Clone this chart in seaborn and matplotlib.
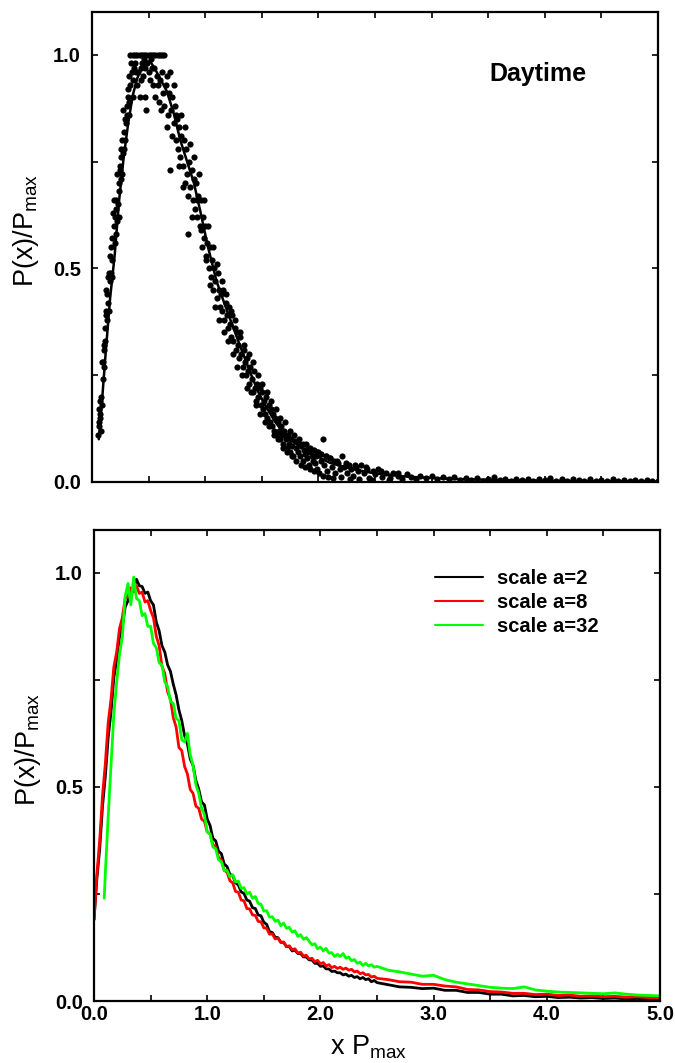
import numpy as np
import pandas as pd
import matplotlib
matplotlib.use("Agg")
import matplotlib.pyplot as plt
from matplotlib.ticker import MultipleLocator, FormatStrFormatter
import seaborn as sns

# ---------------- data: top panel (Daytime) ----------------
fit_x = [0.06, 0.08, 0.10, 0.12, 0.16, 0.20, 0.24, 0.28, 0.32, 0.36, 0.40, 0.44, 0.48,
         0.52, 0.56, 0.60, 0.66, 0.72, 0.78, 0.84, 0.90, 0.96, 1.02, 1.10, 1.18, 1.25,
         1.32, 1.40, 1.47, 1.54, 1.62, 1.70, 1.80, 1.93, 2.10, 2.30, 2.50, 2.80, 3.20,
         3.70, 4.30, 5.00]
fit_y = [0.10, 0.16, 0.23, 0.30, 0.43, 0.53, 0.66, 0.76, 0.84, 0.905, 0.945, 0.97, 0.985,
         0.982, 0.965, 0.945, 0.915, 0.865, 0.80, 0.75, 0.70, 0.63, 0.555, 0.47, 0.41, 0.36,
         0.31, 0.255, 0.21, 0.175, 0.14, 0.112, 0.09, 0.068, 0.045, 0.03, 0.02, 0.012, 0.007,
         0.004, 0.002, 0.001]

dot_x = [0.055, 0.06, 0.065, 0.07, 0.075, 0.08, 0.085, 0.09, 0.10, 0.105, 0.11, 0.115, 0.12,
         0.125, 0.13, 0.135, 0.14, 0.145, 0.15, 0.16, 0.165, 0.17, 0.175, 0.18, 0.19, 0.20,
         0.20, 0.21, 0.215, 0.22, 0.23, 0.235, 0.24, 0.245, 0.25, 0.255, 0.26, 0.265, 0.27,
         0.28, 0.285, 0.29, 0.30, 0.305, 0.31, 0.32, 0.325, 0.33, 0.34, 0.35, 0.36, 0.37,
         0.34, 0.36, 0.38, 0.40, 0.42, 0.44, 0.46, 0.48, 0.50, 0.52, 0.54, 0.56, 0.58, 0.60,
         0.62, 0.64,
         0.39, 0.40, 0.42, 0.43, 0.44, 0.45, 0.46, 0.47, 0.48, 0.49, 0.50, 0.51, 0.52, 0.53,
         0.54, 0.55, 0.56, 0.57, 0.58, 0.59, 0.60, 0.61, 0.62, 0.63, 0.64, 0.65,
         0.66, 0.67, 0.68, 0.69, 0.70, 0.71, 0.72, 0.73, 0.74, 0.75, 0.76, 0.77, 0.78, 0.79,
         0.80, 0.81, 0.82, 0.83, 0.84, 0.85, 0.86, 0.87, 0.88, 0.89, 0.90, 0.91, 0.92, 0.93,
         0.94, 0.95, 0.96, 0.97, 0.98, 0.99, 1.00, 1.01, 1.02, 1.03, 1.04, 1.05, 1.06, 1.07,
         1.08, 1.09, 1.10, 1.11, 1.12, 1.13, 1.14, 1.15, 1.16, 1.17, 1.18, 1.19, 1.20, 1.21,
         1.22, 1.23, 1.24, 1.25, 1.26, 1.27, 1.28, 1.29, 1.30, 1.31, 1.32, 1.33, 1.34, 1.35,
         1.36, 1.37, 1.38, 1.39, 1.40, 1.41, 1.42, 1.43, 1.44, 1.45, 1.46, 1.47, 1.48, 1.49,
         1.50, 1.51, 1.52, 1.53, 1.54, 1.55, 1.56, 1.57, 1.58, 1.59, 1.60, 1.61, 1.62, 1.63,
         1.64, 1.65, 1.66, 1.67, 1.68, 1.69, 1.70, 1.71, 1.72, 1.73, 1.74, 1.75, 1.76, 1.77,
         1.78, 1.79, 1.80, 1.82, 1.83, 1.84, 1.85, 1.86, 1.87, 1.88, 1.89, 1.90, 1.91, 1.92,
         1.93, 1.94, 1.95, 1.96, 1.97, 1.98, 1.99, 2.00, 2.02, 2.04, 2.05, 2.07, 2.08, 2.10,
         2.12, 2.14, 2.15, 2.17, 2.19, 2.21, 2.23, 2.25, 2.27, 2.29, 2.31, 2.33, 2.35, 2.38,
         2.40, 2.43, 2.45, 2.48, 2.50, 2.53, 2.56, 2.60, 2.63, 2.66, 2.70, 2.74, 2.78, 2.82,
         2.86, 2.90, 2.95, 3.00, 3.05, 3.10, 3.15, 3.20, 3.25, 3.30, 3.35, 3.40, 3.45, 3.50,
         3.55, 3.60, 3.65, 3.70, 3.75, 3.80, 3.85, 3.90, 3.95, 4.00, 4.05, 4.10, 4.15, 4.20,
         4.25, 4.30, 4.35, 4.40, 4.45, 4.50, 4.55, 4.60, 4.65, 4.70, 4.75, 4.80, 4.85, 4.90,
         4.95, 5.00]
dot_y = [0.11, 0.14, 0.17, 0.19, 0.15, 0.20, 0.18, 0.28, 0.28, 0.27, 0.32, 0.36, 0.39,
         0.40, 0.38, 0.44, 0.42, 0.48, 0.49, 0.47, 0.49, 0.55, 0.52, 0.57, 0.60, 0.62,
         0.56, 0.64, 0.66, 0.61, 0.65, 0.70, 0.68, 0.74, 0.73, 0.71, 0.76, 0.80, 0.77,
         0.82, 0.78, 0.85, 0.84, 0.88, 0.86, 0.92, 0.89, 0.95, 0.93, 0.96, 0.90, 0.97,
         1.0, 1.0, 1.0, 1.0, 1.0, 1.0, 1.0, 1.0, 1.0, 1.0, 1.0, 1.0, 1.0, 1.0,
         1.0, 1.0,
         0.96, 0.93, 0.90, 0.97, 0.98, 0.95, 0.99, 0.97, 0.87, 0.98, 0.96, 0.94, 0.99, 0.97,
         0.93, 0.97, 0.90, 0.95, 0.93, 0.89, 0.94, 0.87, 0.96, 0.91, 0.88, 0.93,
         0.95, 0.86, 0.91, 0.73, 0.87, 0.90, 0.84, 0.88, 0.80, 0.85, 0.78, 0.83, 0.76, 0.81,
         0.74, 0.80, 0.70, 0.78, 0.72, 0.58, 0.75, 0.69, 0.73, 0.66, 0.71, 0.64, 0.70, 0.62,
         0.67, 0.60, 0.66, 0.55, 0.62, 0.57, 0.60, 0.53, 0.56, 0.50, 0.55, 0.48, 0.52, 0.45,
         0.50, 0.47, 0.43, 0.49, 0.45, 0.41, 0.44, 0.40, 0.45, 0.38, 0.42, 0.39, 0.36, 0.41,
         0.37, 0.34, 0.39, 0.33, 0.36, 0.31, 0.35, 0.32, 0.29, 0.34, 0.30, 0.27, 0.31, 0.28,
         0.25, 0.29, 0.26, 0.23, 0.27, 0.24, 0.21, 0.26, 0.22, 0.19, 0.23, 0.20, 0.22, 0.18,
         0.21, 0.17, 0.19, 0.16, 0.20, 0.15, 0.18, 0.14, 0.17, 0.13, 0.16, 0.12, 0.15, 0.11,
         0.14, 0.12, 0.10, 0.13, 0.11, 0.09, 0.12, 0.10, 0.08, 0.11, 0.09, 0.07, 0.10, 0.085,
         0.06, 0.095, 0.08, 0.07, 0.09, 0.06, 0.085, 0.05, 0.075, 0.065, 0.09, 0.055, 0.07, 0.04,
         0.08, 0.06, 0.05, 0.075, 0.045, 0.06, 0.03, 0.07, 0.05, 0.10, 0.04, 0.06, 0.025, 0.055,
         0.035, 0.05, 0.02, 0.045, 0.03, 0.06, 0.035, 0.02, 0.04, 0.03, 0.015, 0.035, 0.025, 0.04,
         0.02, 0.03, 0.01, 0.025, 0.018, 0.03, 0.012, 0.02, 0.01, 0.022, 0.015, 0.008, 0.018, 0.012,
         0.006, 0.015, 0.01, 0.013, 0.006, 0.012, 0.008, 0.011, 0.004, 0.009, 0.005, 0.010, 0.003, 0.008,
         0.012, 0.004, 0.007, 0.003, 0.008, 0.005, 0.006, 0.002, 0.007, 0.004, 0.009, 0.003, 0.006, 0.002,
         0.008, 0.004, 0.003, 0.007, 0.002, 0.005, 0.003, 0.006, 0.002, 0.004, 0.003, 0.005, 0.002, 0.004,
         0.003, 0.002]

dot2_x = [0.058, 0.068, 0.078, 0.095, 0.108, 0.118, 0.128, 0.148, 0.158, 0.178, 0.188, 0.198,
          0.208, 0.225, 0.238, 0.252, 0.268, 0.278, 0.295, 0.315, 0.33, 0.345, 0.36, 0.38,
          0.41, 0.43, 0.47,
          0.665, 0.685, 0.705, 0.725, 0.745, 0.765, 0.785, 0.805, 0.825, 0.845, 0.865, 0.885,
          0.905, 0.925, 0.945, 0.965, 0.985, 1.005, 1.025, 1.045, 1.065, 1.085, 1.105, 1.125,
          1.145, 1.165, 1.185, 1.205, 1.225, 1.245, 1.265, 1.285, 1.305, 1.325, 1.345, 1.365,
          1.385, 1.405, 1.425, 1.445, 1.465, 1.485, 1.505, 1.525, 1.545, 1.565, 1.585, 1.605,
          1.625, 1.645, 1.665, 1.685, 1.705, 1.725, 1.745, 1.765, 1.785, 1.805, 1.825, 1.845,
          1.865, 1.885, 1.905, 1.925, 1.945, 1.965, 1.985, 2.005, 2.025, 2.045, 2.065, 2.085,
          2.105, 2.13, 2.16, 2.20, 2.24, 2.28, 2.32, 2.36, 2.42, 2.47, 2.55, 2.62, 2.70]
dot2_y = [0.13, 0.16, 0.12, 0.24, 0.31, 0.33, 0.45, 0.40, 0.53, 0.48, 0.63, 0.66,
          0.58, 0.72, 0.62, 0.78, 0.72, 0.87, 0.80, 0.90, 0.86, 0.98, 0.94, 0.98,
          0.96, 0.94, 0.90,
          0.83, 0.96, 0.81, 0.93, 0.86, 0.74, 0.86, 0.69, 0.83, 0.67, 0.79, 0.62,
          0.76, 0.66, 0.72, 0.59, 0.66, 0.52, 0.60, 0.46, 0.55, 0.41, 0.51, 0.38,
          0.47, 0.35, 0.44, 0.33, 0.40, 0.30, 0.38, 0.27, 0.35, 0.25, 0.32, 0.22,
          0.30, 0.21, 0.28, 0.18, 0.25, 0.16, 0.23, 0.14, 0.21, 0.13, 0.19, 0.11,
          0.17, 0.10, 0.15, 0.08, 0.14, 0.07, 0.12, 0.06, 0.11, 0.05, 0.10, 0.04,
          0.09, 0.035, 0.08, 0.03, 0.075, 0.025, 0.07, 0.02, 0.065, 0.015, 0.06, 0.012,
          0.055, 0.01, 0.05, 0.012, 0.045, 0.008, 0.04, 0.006, 0.035, 0.005, 0.025, 0.004, 0.02]

# ---------------- data: bottom panel (scales) ----------------
x_grid = [0.000, 0.025, 0.050, 0.075, 0.100, 0.125, 0.150, 0.175, 0.200, 0.225,
          0.250, 0.275, 0.300, 0.325, 0.350, 0.375, 0.400, 0.425, 0.450, 0.475,
          0.500, 0.525, 0.550, 0.575, 0.600, 0.625, 0.650, 0.675, 0.700, 0.725,
          0.750, 0.775, 0.800, 0.825, 0.850, 0.875, 0.900, 0.925, 0.950, 0.975,
          1.000, 1.025, 1.050, 1.075, 1.100, 1.125, 1.150, 1.175, 1.200, 1.225,
          1.250, 1.275, 1.300, 1.325, 1.350, 1.375, 1.400, 1.425, 1.450, 1.475,
          1.500, 1.525, 1.550, 1.575, 1.600, 1.625, 1.650, 1.675, 1.700, 1.725,
          1.750, 1.775, 1.800, 1.825, 1.850, 1.875, 1.900, 1.925, 1.950, 1.975,
          2.000, 2.025, 2.050, 2.075, 2.100, 2.125, 2.150, 2.175, 2.200, 2.225,
          2.250, 2.275, 2.300, 2.325, 2.350, 2.375, 2.400, 2.425, 2.450, 2.475, 2.500,
          2.6, 2.7, 2.8, 2.9, 3.0, 3.1, 3.2, 3.3, 3.4, 3.5, 3.6, 3.7, 3.8, 3.9,
          4.0, 4.1, 4.2, 4.3, 4.4, 4.5, 4.6, 4.7, 4.8, 4.9, 5.0]
y_a2 = [0.19, 0.285, 0.355, 0.455, 0.525, 0.615, 0.675, 0.755, 0.795, 0.85,
        0.875, 0.92, 0.935, 0.96, 0.965, 0.985, 0.97, 0.968, 0.952, 0.955,
        0.935, 0.925, 0.885, 0.865, 0.83, 0.815, 0.785, 0.77, 0.74, 0.715,
        0.68, 0.655, 0.62, 0.6, 0.565, 0.55, 0.515, 0.495, 0.465, 0.458,
        0.425, 0.41, 0.38, 0.374, 0.35, 0.344, 0.32, 0.314, 0.296, 0.293,
        0.276, 0.271, 0.255, 0.251, 0.236, 0.233, 0.218, 0.216, 0.201, 0.199,
        0.184, 0.179, 0.162, 0.16, 0.149, 0.148, 0.137, 0.137, 0.127, 0.127,
        0.117, 0.119, 0.111, 0.111, 0.103, 0.103, 0.096, 0.096, 0.088, 0.088,
        0.081, 0.082, 0.075, 0.075, 0.069, 0.07, 0.066, 0.066, 0.061, 0.063,
        0.058, 0.06, 0.055, 0.057, 0.052, 0.055, 0.05, 0.052, 0.045, 0.048, 0.043,
        0.038, 0.033, 0.032, 0.029, 0.03, 0.025, 0.025, 0.02, 0.02, 0.016, 0.016, 0.012, 0.013,
        0.01, 0.011, 0.008, 0.009, 0.007, 0.008, 0.006, 0.007, 0.005, 0.006, 0.004, 0.005]
y_a8 = [0.19, 0.295, 0.375, 0.48, 0.555, 0.65, 0.705, 0.78, 0.815, 0.87,
        0.895, 0.94, 0.945, 0.965, 0.955, 0.97, 0.952, 0.955, 0.932, 0.935,
        0.912, 0.895, 0.852, 0.83, 0.782, 0.765, 0.722, 0.705, 0.662, 0.64,
        0.592, 0.585, 0.548, 0.53, 0.494, 0.485, 0.455, 0.45, 0.425, 0.42,
        0.395, 0.39, 0.365, 0.36, 0.335, 0.33, 0.305, 0.301, 0.281, 0.276,
        0.256, 0.254, 0.236, 0.234, 0.216, 0.215, 0.201, 0.2, 0.186, 0.185,
        0.171, 0.17, 0.156, 0.157, 0.145, 0.147, 0.137, 0.138, 0.127, 0.129,
        0.12, 0.122, 0.112, 0.114, 0.105, 0.107, 0.098, 0.1, 0.092, 0.095,
        0.087, 0.09, 0.082, 0.085, 0.078, 0.081, 0.076, 0.079, 0.074, 0.077,
        0.072, 0.074, 0.068, 0.07, 0.064, 0.066, 0.061, 0.062, 0.056, 0.058, 0.053,
        0.05, 0.045, 0.044, 0.039, 0.039, 0.035, 0.033, 0.027, 0.026, 0.022, 0.021, 0.018, 0.018,
        0.015, 0.016, 0.013, 0.014, 0.011, 0.012, 0.01, 0.011, 0.009, 0.01, 0.008, 0.008]
x_a32 = [0.09,
         0.100, 0.125, 0.150, 0.175, 0.200, 0.225, 0.250, 0.275, 0.300, 0.325,
         0.350, 0.375, 0.400, 0.425, 0.450, 0.475, 0.500, 0.525, 0.550, 0.575,
         0.600, 0.625, 0.650, 0.675, 0.700, 0.725, 0.750, 0.775, 0.800, 0.825,
         0.850, 0.875, 0.900, 0.925, 0.950, 0.975, 1.000, 1.025, 1.050, 1.075,
         1.100, 1.125, 1.150, 1.175, 1.200, 1.225, 1.250, 1.275, 1.300, 1.325,
         1.350, 1.375, 1.400, 1.425, 1.450, 1.475, 1.500, 1.525, 1.550, 1.575,
         1.600, 1.625, 1.650, 1.675, 1.700, 1.725, 1.750, 1.775, 1.800, 1.825,
         1.850, 1.875, 1.900, 1.925, 1.950, 1.975, 2.000, 2.025, 2.050, 2.075,
         2.100, 2.125, 2.150, 2.175, 2.200, 2.225, 2.250, 2.275, 2.300, 2.325,
         2.350, 2.375, 2.400, 2.425, 2.450, 2.475, 2.500,
         2.6, 2.7, 2.8, 2.9, 3.0, 3.1, 3.2, 3.3, 3.4, 3.5, 3.6, 3.7, 3.8, 3.9,
         4.0, 4.1, 4.2, 4.3, 4.4, 4.5, 4.6, 4.7, 4.8, 4.9, 5.0]
y_a32 = [0.24,
         0.30, 0.43, 0.55, 0.67, 0.745, 0.81, 0.85, 0.945, 0.975, 0.925,
         0.99, 0.94, 0.935, 0.9, 0.905, 0.875, 0.875, 0.835, 0.825, 0.79,
         0.785, 0.745, 0.735, 0.7, 0.695, 0.66, 0.655, 0.61, 0.605, 0.625,
         0.575, 0.55, 0.505, 0.485, 0.45, 0.435, 0.395, 0.39, 0.36, 0.355,
         0.33, 0.325, 0.305, 0.305, 0.29, 0.295, 0.278, 0.28, 0.263, 0.265,
         0.25, 0.254, 0.24, 0.244, 0.228, 0.226, 0.21, 0.211, 0.196, 0.197,
         0.186, 0.189, 0.176, 0.182, 0.17, 0.172, 0.161, 0.164, 0.151, 0.155,
         0.144, 0.148, 0.14, 0.131, 0.134, 0.122, 0.126, 0.117, 0.123, 0.112,
         0.113, 0.104, 0.109, 0.104, 0.111, 0.1, 0.103, 0.094, 0.097, 0.088,
         0.091, 0.083, 0.088, 0.082, 0.085, 0.079, 0.081,
         0.072, 0.068, 0.063, 0.058, 0.06, 0.05, 0.044, 0.04, 0.036, 0.032, 0.03, 0.029, 0.033,
         0.026, 0.023, 0.021, 0.02, 0.019, 0.018, 0.017, 0.019, 0.016, 0.014, 0.013, 0.012]

series_labels = ["scale a=2", "scale a=8", "scale a=32"]
series_colors = ["#000000", "#ff0000", "#00ff00"]

# ---------------- styling ----------------
sns.set_theme(style="ticks")
plt.rcParams["font.family"] = ["Liberation Sans", "DejaVu Sans"]
plt.rcParams["mathtext.fontset"] = "custom"
plt.rcParams["mathtext.rm"] = "Liberation Sans"
plt.rcParams["mathtext.it"] = "Liberation Sans:italic"
plt.rcParams["mathtext.bf"] = "Liberation Sans:bold"
for k in ["text.color", "axes.labelcolor", "xtick.color", "ytick.color", "axes.edgecolor"]:
    plt.rcParams[k] = "black"

fig = plt.figure(figsize=(6.75, 10.63), dpi=100)
ax1 = fig.add_axes([0.1363, 0.5466, 0.8385, 0.4421])
ax2 = fig.add_axes([0.1393, 0.0583, 0.8385, 0.4431])

def style_axis(ax, show_xlabels):
    ax.set_xlim(0, 5.0)
    ax.set_ylim(0, 1.1)
    ax.xaxis.set_major_locator(MultipleLocator(1.0))
    ax.xaxis.set_minor_locator(MultipleLocator(0.5))
    ax.yaxis.set_major_locator(MultipleLocator(0.5))
    ax.yaxis.set_minor_locator(MultipleLocator(0.25))
    ax.xaxis.set_major_formatter(FormatStrFormatter("%.1f"))
    ax.yaxis.set_major_formatter(FormatStrFormatter("%.1f"))
    ax.tick_params(which="both", direction="in", top=True, right=True,
                   length=4.5, width=1.2, colors="black", labelsize=14.5)
    ax.tick_params(axis="y", pad=8)
    ax.tick_params(axis="x", pad=3)
    for lab in ax.get_xticklabels() + ax.get_yticklabels():
        lab.set_fontweight("bold")
    if not show_xlabels:
        ax.tick_params(axis="x", labelbottom=False)
    for s in ax.spines.values():
        s.set_visible(True)
        s.set_linewidth(1.6)
        s.set_color("black")
    ax.set_ylabel(r"P(x)/P$_{\mathrm{max}}$", fontsize=19.5)
    ax.yaxis.set_label_coords(-0.09, 0.535)

# top panel
sns.scatterplot(x=dot_x + dot2_x, y=dot_y + dot2_y, ax=ax1, color="black", s=20,
                linewidth=0, zorder=3)
sns.lineplot(x=fit_x, y=fit_y, ax=ax1, color="black", linewidth=1.8, estimator=None, zorder=4)
style_axis(ax1, False)
ax1.set_xlabel("")
ax1.text(3.51, 0.955, "Daytime", fontsize=18, fontweight="bold", ha="left", va="center")

# bottom panel
df = pd.concat([
    pd.DataFrame({"x": x_grid, "y": y_a2, "series": series_labels[0]}),
    pd.DataFrame({"x": x_grid, "y": y_a8, "series": series_labels[1]}),
    pd.DataFrame({"x": x_a32, "y": y_a32, "series": series_labels[2]}),
])
sns.lineplot(data=df, x="x", y="y", hue="series", hue_order=series_labels,
             palette=dict(zip(series_labels, series_colors)), ax=ax2,
             linewidth=2.0, estimator=None, sort=False)
style_axis(ax2, True)
ax2.set_xlabel(r"x P$_{\mathrm{max}}$", fontsize=19.5)
ax2.xaxis.set_label_coords(0.485, -0.068)
ax2.xaxis.label.set_va("top")
leg = ax2.legend(loc="upper left", bbox_to_anchor=(0.6025, 0.918), frameon=False,
                 borderaxespad=0, borderpad=0,
                 fontsize=14.5, handlelength=2.4, handletextpad=0.7, labelspacing=0.25)
for t in leg.get_texts():
    t.set_fontweight("bold")
for h in leg.get_lines():
    h.set_linewidth(1.5)

fig.savefig("out.png", dpi=100)
